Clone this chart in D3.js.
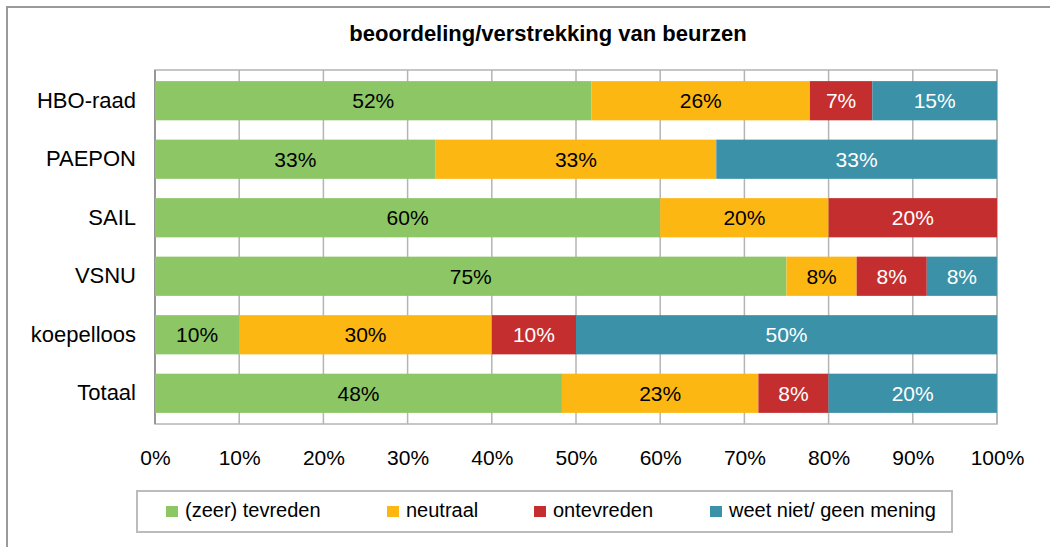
<!DOCTYPE html>
<html>
<head>
<meta charset="utf-8">
<script src="https://cdn.jsdelivr.net/npm/d3@7"></script>
<style>
  body { margin: 0; background: #fff; }
  svg text { font-family: "Liberation Sans", Arial, sans-serif; }
</style>
</head>
<body>
<svg id="chart" width="1050" height="547"></svg>
<script>
const title = "beoordeling/verstrekking van beurzen";
const groups = ["HBO-raad", "PAEPON", "SAIL", "VSNU", "koepelloos", "Totaal"];
const seriesNames = ["(zeer) tevreden", "neutraal", "ontevreden", "weet niet/ geen mening"];
const tevreden = [51.85, 33.33, 60, 75, 10, 48.33];
const neutraal = [25.93, 33.33, 20, 8.33, 30, 23.33];
const ontevreden = [7.41, 0, 20, 8.33, 10, 8.33];
const weetNiet = [14.81, 33.33, 0, 8.33, 50, 20];
const xTicks = [0, 10, 20, 30, 40, 50, 60, 70, 80, 90, 100];

const colors = ["#8DC665", "#FDB712", "#C42E2F", "#3A91A8"];
const labelColors = ["#000", "#000", "#fff", "#fff"];

const rows = groups.map((g, i) => ({
	group: g,
	"(zeer) tevreden": tevreden[i],
	neutraal: neutraal[i],
	ontevreden: ontevreden[i],
	"weet niet/ geen mening": weetNiet[i],
}));

const svg = d3.select("#chart");

// outer frame (only top/left visible)
svg.append("rect")
	.attr("x", 7).attr("y", 7)
	.attr("width", 1100).attr("height", 600)
	.attr("fill", "none")
	.attr("stroke", "#9a9a9a")
	.attr("stroke-width", 2);

svg.append("text")
	.attr("x", 548).attr("y", 41)
	.attr("text-anchor", "middle")
	.attr("font-size", 22)
	.attr("font-weight", "bold")
	.text(title);

const plotLeft = 155, plotRight = 997, plotTop = 70, plotBottom = 424;

const x = d3.scaleLinear().domain([0, 100]).range([plotLeft, plotRight]);
const y = d3.scaleBand()
	.domain(groups)
	.range([plotTop, plotBottom])
	.paddingInner(0.33)
	.paddingOuter(0.19);

// gridlines
svg.append("g")
	.selectAll("line")
	.data(xTicks)
	.join("line")
	.attr("x1", (d) => x(d)).attr("x2", (d) => x(d))
	.attr("y1", plotTop).attr("y2", plotBottom)
	.attr("stroke", "#b4b4b4")
	.attr("stroke-width", 1.5);

svg.append("rect")
	.attr("x", plotLeft).attr("y", plotTop)
	.attr("width", plotRight - plotLeft).attr("height", plotBottom - plotTop)
	.attr("fill", "none")
	.attr("stroke", "#b4b4b4")
	.attr("stroke-width", 1.5);

svg.append("line")
	.attr("x1", plotLeft).attr("x2", plotLeft)
	.attr("y1", plotTop).attr("y2", plotBottom)
	.attr("stroke", "#8c8c8c")
	.attr("stroke-width", 1.5);

const stacked = d3.stack().keys(seriesNames)(rows);

const layers = svg.append("g")
	.selectAll("g")
	.data(stacked)
	.join("g")
	.attr("fill", (d, i) => colors[i]);

layers.selectAll("rect")
	.data((d) => d)
	.join("rect")
	.attr("x", (d) => x(d[0]))
	.attr("y", (d) => y(d.data.group))
	.attr("width", (d) => x(d[1]) - x(d[0]))
	.attr("height", y.bandwidth());

svg.append("g")
	.selectAll("g")
	.data(stacked)
	.join("g")
	.attr("fill", (d, i) => labelColors[i])
	.selectAll("text")
	.data((d) => d.filter((p) => p[1] - p[0] > 0))
	.join("text")
	.attr("x", (d) => (x(d[0]) + x(d[1])) / 2)
	.attr("y", (d) => y(d.data.group) + y.bandwidth() / 2)
	.attr("dy", "0.36em")
	.attr("text-anchor", "middle")
	.attr("font-size", 21)
	.text((d) => Math.round(d[1] - d[0]) + "%");

// category axis
const yAxis = svg.append("g")
	.attr("transform", `translate(${plotLeft},0)`)
	.call(d3.axisLeft(y).tickSize(0).tickPadding(19));
yAxis.select(".domain").remove();
yAxis.selectAll("text")
	.attr("font-size", 22)
	.attr("fill", "#000")
	.attr("font-family", "Liberation Sans, Arial, sans-serif");

// value axis
const xAxis = svg.append("g")
	.attr("transform", `translate(0,${plotBottom})`)
	.call(d3.axisBottom(x).tickValues(xTicks).tickSize(0).tickPadding(26).tickFormat((d) => d + "%"));
xAxis.select(".domain").remove();
xAxis.selectAll("text")
	.attr("font-size", 21)
	.attr("fill", "#000")
	.attr("font-family", "Liberation Sans, Arial, sans-serif");

// legend
svg.append("rect")
	.attr("x", 137).attr("y", 491)
	.attr("width", 815).attr("height", 41)
	.attr("fill", "#fff")
	.attr("stroke", "#bcbcbc")
	.attr("stroke-width", 2);

const legendX = [166, 387, 534, 710];
const legend = svg.append("g")
	.selectAll("g")
	.data(seriesNames)
	.join("g")
	.attr("transform", (d, i) => `translate(${legendX[i]},506)`);
legend.append("rect")
	.attr("width", 12).attr("height", 11)
	.attr("fill", (d, i) => colors[i]);
legend.append("text")
	.attr("x", 19).attr("y", 11)
	.attr("font-size", 20)
	.text((d) => d);
</script>
</body>
</html>
